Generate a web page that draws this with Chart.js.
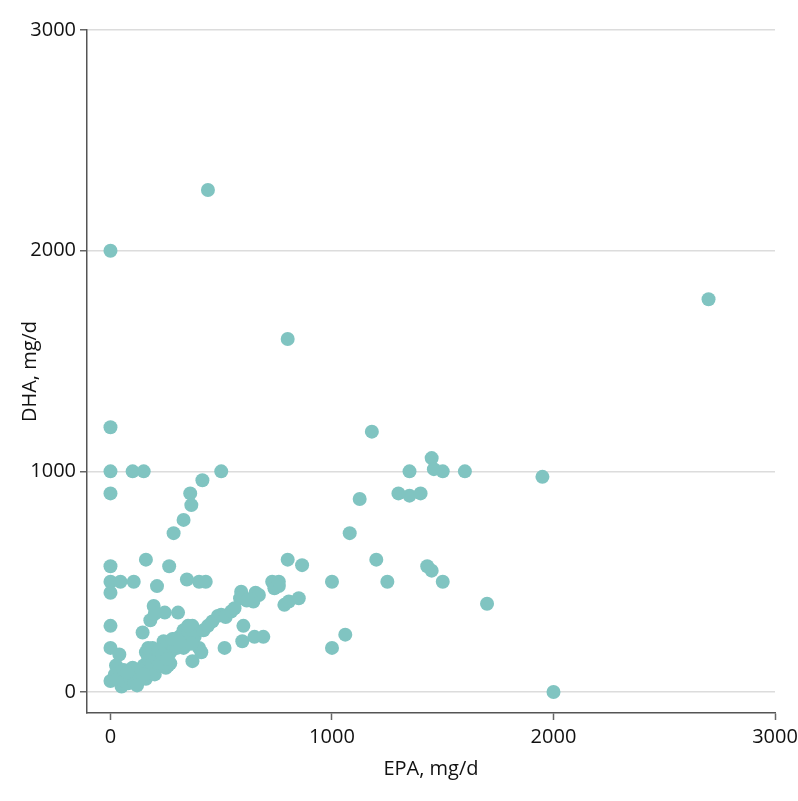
<!DOCTYPE html>
<html>
<head>
<meta charset="utf-8">
<script src="https://cdn.jsdelivr.net/npm/chart.js@4"></script>
<style>
  body { margin: 0; background: #fff; }
</style>
</head>
<body>
<canvas id="myChart" width="798" height="801"></canvas>
<script>
// EPA (x) and DHA (y) in mg/d
var epaValues = [
    440, 0, 800, 2700, 0, 1180,
    0, 100, 150, 500, 0, 360, 415, 365, 330, 285,
    1450, 1460, 1500, 1600, 1350, 1350, 1300, 1400, 1950, 1125, 1080, 1200, 1250, 1000, 1060, 1000,
    1430, 1450, 1500, 1700, 2000,
    800, 865, 850, 785, 805,
    0, 160, 265, 0, 45, 105, 0, 210, 345, 400, 430,
    590, 655, 730, 745, 760, 740, 760, 670,
    585, 615, 645, 600, 595, 650, 690, 515, 370,
    0, 0, 40, 25, 0, 50, 145, 180, 195, 245, 305, 200,
    20, 30, 60, 70, 80, 90, 100, 110, 120, 130, 140, 150, 160, 170, 180, 190, 200, 200, 210,
    220, 230, 240, 250, 260, 270, 280, 290, 300, 310, 320, 330, 340, 350, 360, 370, 380,
    400, 410, 420, 440, 460, 485, 500, 520, 545, 560, 620, 330, 290,
    60, 90, 110, 130, 100, 240, 260, 270, 290, 350, 150, 160, 170, 225, 365,
    190, 215, 235, 255, 280, 310, 120, 75
];
var dhaValues = [
    2275, 2000, 1600, 1780, 1200, 1180,
    1000, 1000, 1000, 1000, 900, 900, 960, 847, 780, 720,
    1060, 1010, 1000, 1000, 1000, 890, 900, 900, 975, 875, 720, 600, 500, 500, 260, 200,
    570, 550, 500, 400, 0,
    600, 575, 425, 395, 410,
    570, 600, 570, 500, 500, 500, 450, 480, 510, 500, 500,
    455, 450, 500, 490, 480, 470, 500, 440,
    425, 415, 410, 300, 230, 250, 250, 200, 140,
    300, 200, 170, 120, 50, 25, 270, 325, 390, 360, 360, 355,
    80, 60, 50, 80, 40, 100, 60, 90, 50, 100, 70, 120, 60, 150, 100, 130, 80, 180, 150,
    120, 200, 160, 110, 220, 180, 210, 230, 200, 250, 220, 280, 240, 260, 220, 300, 250,
    200, 180, 280, 300, 320, 345, 350, 340, 365, 380, 420, 200, 240,
    100, 60, 40, 70, 110, 230, 120, 130, 210, 300, 80, 180, 200, 130, 220,
    200, 190, 170, 150, 240, 230, 30, 90
];
var xTicks = [0, 1000, 2000, 3000];
var yTicks = [0, 1000, 2000, 3000];

var points = epaValues.map((x, i) => ({ x: x, y: dhaValues[i] }));

var tickFont = { family: "'Open Sans', sans-serif", size: 20 };
var ctx = document.getElementById('myChart').getContext('2d');
var myChart = new Chart(ctx, {
    type: 'scatter',
    data: {
        datasets: [{
            data: points,
            backgroundColor: 'rgb(128, 196, 193)',
            borderWidth: 0,
            pointRadius: 7,
            pointHoverRadius: 7
        }]
    },
    options: {
        responsive: false,
        animation: false,
        layout: { padding: { top: 30, right: 23, left: 0, bottom: 0 } },
        plugins: { legend: { display: false }, tooltip: { enabled: false } },
        scales: {
            x: {
                type: 'linear',
                min: -106,
                max: 3000,
                afterBuildTicks: (axis) => { axis.ticks = xTicks.map(v => ({ value: v })); },
                afterFit: (axis) => {
                    axis.height = 88;
                    axis.paddingRight = 0;
                    axis.paddingLeft = 0;
                },
                grid: { drawOnChartArea: false, drawTicks: true, tickLength: 7, tickColor: '#666', tickWidth: 1.5 },
                border: { display: true, color: '#555', width: 1.5 },
                ticks: { color: '#111', font: tickFont, padding: 5, maxRotation: 0, callback: (v) => String(v) },
                title: { display: true, text: 'EPA, mg/d', color: '#111', font: tickFont, padding: { bottom: 20 } }
            },
            y: {
                type: 'linear',
                min: -95,
                max: 3000,
                afterBuildTicks: (axis) => { axis.ticks = yTicks.map(v => ({ value: v })); },
                afterFit: (axis) => {
                    axis.width = 87;
                    axis.paddingTop = 0;
                    axis.paddingBottom = 0;
                },
                grid: { color: '#dcdcdc', lineWidth: 1.5, drawTicks: true, tickLength: 7, tickColor: '#666', tickWidth: 1.5 },
                border: { display: true, color: '#555', width: 1.5 },
                ticks: { color: '#111', font: tickFont, padding: 4, callback: (v) => String(v) },
                title: { display: true, text: 'DHA, mg/d', color: '#111', font: tickFont, padding: { top: 18 } }
            }
        }
    }
});
</script>
</body>
</html>
